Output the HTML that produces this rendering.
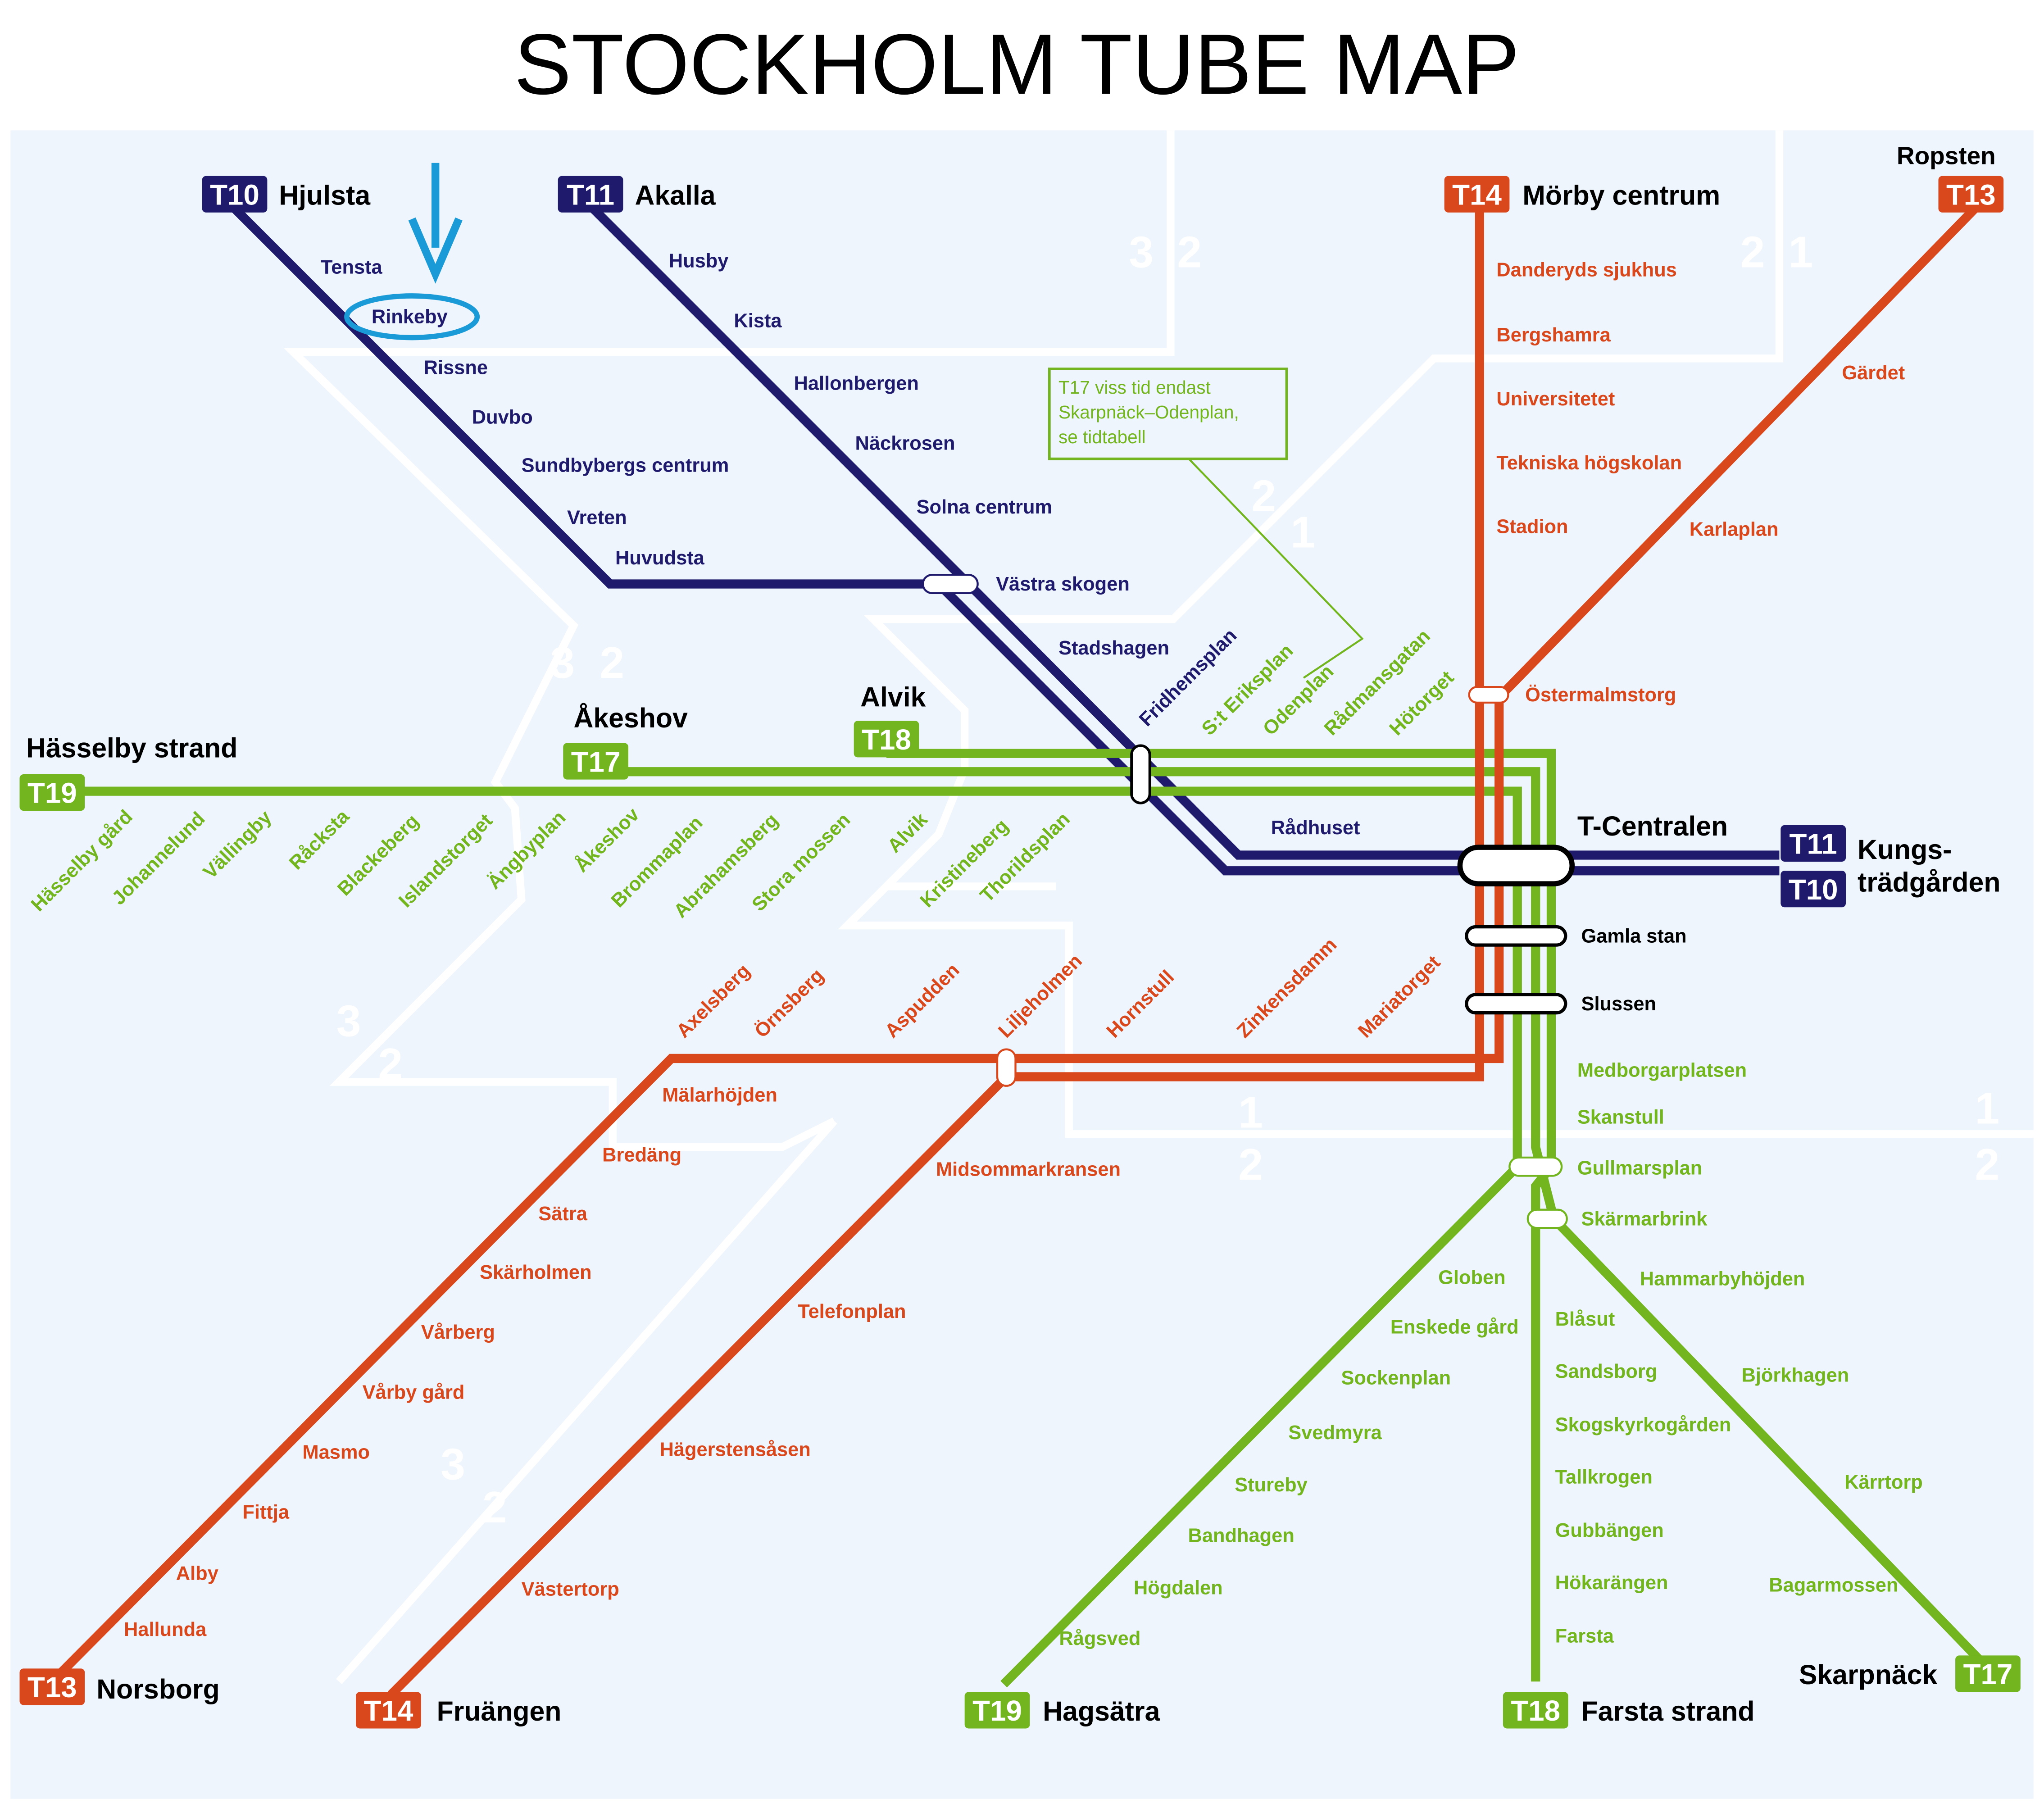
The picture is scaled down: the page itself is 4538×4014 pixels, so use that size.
<!DOCTYPE html>
<html><head><meta charset="utf-8"><style>
html,body{margin:0;padding:0;background:#fff}
svg{display:block}
text{font-family:"Liberation Sans",sans-serif;font-weight:bold}
.n{fill:#1f1a6b;font-size:15px}
.r{fill:#d8481c;font-size:15px}
.g{fill:#72b51e;font-size:15px}
.k{fill:#000;font-size:17px}
.z{fill:#fff;font-size:34px;font-weight:normal}
</style></head><body>
<svg width="4538" height="4014" viewBox="0 0 1568 1387" xmlns="http://www.w3.org/2000/svg">
<rect width="1568" height="1387" fill="#fff"/>
<rect x="8" y="100" width="1552" height="1280" fill="#eef5fc"/>
<text x="780" y="72" text-anchor="middle" style="font-size:66px;font-weight:normal" fill="#000">STOCKHOLM TUBE MAP</text>
<!-- zone lines -->
<g stroke="#fff" stroke-width="6" fill="none">
<polyline points="898,100 898,270 225,270 440,480 420,520 380,600 395,620 400,690 260,830 470,830 470,880 600,880 640,860"/>
<polyline points="1365,100 1365,275 1100,275 900,475 670,475 740,545 740,590"/>
<polyline points="640,860 260,1290"/>
<polyline points="810,680 680,680 650,710 820,710 820,870 1568,870"/>
<polyline points="740,590 720,640 680,680"/>
</g>
<g class="z"><text x="866" y="205">3</text><text x="903" y="205">2</text><text x="1335" y="205">2</text><text x="1372" y="205">1</text><text x="960" y="392">2</text><text x="990" y="420">1</text><text x="422" y="520">3</text><text x="460" y="520">2</text><text x="258" y="795">3</text><text x="290" y="828">2</text><text x="950" y="865">1</text><text x="950" y="905">2</text><text x="1515" y="862">1</text><text x="1515" y="905">2</text><text x="338" y="1135">3</text><text x="370" y="1168">2</text></g>
<!-- note box -->
<polyline points="912,352 1045,490 1000,520" fill="none" stroke="#72b51e" stroke-width="1.5"/>
<rect x="805" y="283" width="182" height="69" fill="#eef5fc" stroke="#72b51e" stroke-width="2"/>
<text class="g" x="812" y="302" style="font-weight:normal;font-size:14px">T17 viss tid endast</text>
<text class="g" x="812" y="321" style="font-weight:normal;font-size:14px">Skarpnäck–Odenplan,</text>
<text class="g" x="812" y="340" style="font-weight:normal;font-size:14px">se tidtabell</text>
<!-- lines -->
<g fill="none" stroke-width="7" stroke-linejoin="miter">
<polyline stroke="#1f1a6b" points="180,160 468,448 720,448 940,668 1365,668"/>
<polyline stroke="#1f1a6b" points="455,160 735,440 950,656 1365,656"/>
<polyline stroke="#72b51e" points="680,578 1190,578 1190,895 1178,910 1178,1290"/>
<polyline stroke="#72b51e" points="460,592 1178,592 1178,880 1192,935 1525,1280"/>
<polyline stroke="#72b51e" points="40,607 1164,607 1164,895 770,1292"/>
<polyline stroke="#d8481c" points="1135,160 1135,826 772,826 300,1300"/>
<polyline stroke="#d8481c" points="1515,160 1150,535 1150,812 515,812 40,1290"/>
</g>
<!-- interchanges -->
<g fill="#fff" stroke="#000" stroke-width="2.5">
<rect x="1120" y="650" width="86" height="28" rx="14" stroke-width="4"/>
<rect x="1125" y="711" width="76" height="14" rx="7"/>
<rect x="1125" y="763" width="76" height="14" rx="7"/>
</g>
<g fill="#fff" stroke="#1f1a6b" stroke-width="1.5">
<rect x="708" y="441" width="42" height="14" rx="7"/>
<rect x="868" y="572" width="14" height="44" rx="7" stroke="#000" stroke-width="2"/>
<rect x="1127" y="527" width="30" height="12" rx="6" stroke="#d8481c"/>
<rect x="1158" y="888" width="40" height="14" rx="7" stroke="#72b51e"/>
<rect x="1172" y="928" width="30" height="14" rx="7" stroke="#72b51e"/>
<rect x="765" y="805" width="14" height="28" rx="7" stroke="#d8481c"/>
</g>
<!-- badges -->
<g font-size="22">
<rect x="155" y="135" width="50" height="28" rx="3" fill="#1f1a6b"/><text x="180" y="157" text-anchor="middle" fill="#fff" style="font-size:22px">T10</text>
<rect x="428" y="135" width="50" height="28" rx="3" fill="#1f1a6b"/><text x="453" y="157" text-anchor="middle" fill="#fff" style="font-size:22px">T11</text>
<rect x="1108" y="135" width="50" height="28" rx="3" fill="#d8481c"/><text x="1133" y="157" text-anchor="middle" fill="#fff" style="font-size:22px">T14</text>
<rect x="1487" y="135" width="50" height="28" rx="3" fill="#d8481c"/><text x="1512" y="157" text-anchor="middle" fill="#fff" style="font-size:22px">T13</text>
<rect x="15" y="594" width="50" height="28" rx="3" fill="#72b51e"/><text x="40" y="616" text-anchor="middle" fill="#fff" style="font-size:22px">T19</text>
<rect x="432" y="570" width="50" height="28" rx="3" fill="#72b51e"/><text x="457" y="592" text-anchor="middle" fill="#fff" style="font-size:22px">T17</text>
<rect x="655" y="553" width="50" height="28" rx="3" fill="#72b51e"/><text x="680" y="575" text-anchor="middle" fill="#fff" style="font-size:22px">T18</text>
<rect x="1366" y="633" width="50" height="28" rx="3" fill="#1f1a6b"/><text x="1391" y="655" text-anchor="middle" fill="#fff" style="font-size:22px">T11</text>
<rect x="1366" y="668" width="50" height="28" rx="3" fill="#1f1a6b"/><text x="1391" y="690" text-anchor="middle" fill="#fff" style="font-size:22px">T10</text>
<rect x="15" y="1280" width="50" height="28" rx="3" fill="#d8481c"/><text x="40" y="1302" text-anchor="middle" fill="#fff" style="font-size:22px">T13</text>
<rect x="273" y="1298" width="50" height="28" rx="3" fill="#d8481c"/><text x="298" y="1320" text-anchor="middle" fill="#fff" style="font-size:22px">T14</text>
<rect x="740" y="1298" width="50" height="28" rx="3" fill="#72b51e"/><text x="765" y="1320" text-anchor="middle" fill="#fff" style="font-size:22px">T19</text>
<rect x="1153" y="1298" width="50" height="28" rx="3" fill="#72b51e"/><text x="1178" y="1320" text-anchor="middle" fill="#fff" style="font-size:22px">T18</text>
<rect x="1500" y="1270" width="50" height="28" rx="3" fill="#72b51e"/><text x="1525" y="1292" text-anchor="middle" fill="#fff" style="font-size:22px">T17</text>
</g>
<g class="k" style="font-size:21px">
<text x="214" y="157">Hjulsta</text><text x="487" y="157">Akalla</text><text x="1168" y="157">Mörby centrum</text><text x="1455" y="126" style="font-size:19px">Ropsten</text>
<text x="20" y="581">Hässelby strand</text><text x="440" y="558">Åkeshov</text><text x="660" y="542">Alvik</text>
<text x="1210" y="641">T-Centralen</text><text x="1425" y="659">Kungs-</text><text x="1425" y="684">trädgården</text>
<text x="74" y="1303">Norsborg</text><text x="335" y="1320">Fruängen</text><text x="800" y="1320">Hagsätra</text><text x="1213" y="1320">Farsta strand</text><text x="1380" y="1292">Skarpnäck</text>
</g>
<!-- station labels -->
<g class="n">
<text x="246" y="210">Tensta</text><text x="285" y="248">Rinkeby</text><text x="325" y="287">Rissne</text><text x="362" y="325">Duvbo</text><text x="400" y="362">Sundbybergs centrum</text><text x="435" y="402">Vreten</text><text x="472" y="433">Huvudsta</text>
<text x="513" y="205">Husby</text><text x="563" y="251">Kista</text><text x="609" y="299">Hallonbergen</text><text x="656" y="345">Näckrosen</text><text x="703" y="394">Solna centrum</text><text x="764" y="453">Västra skogen</text><text x="812" y="502">Stadshagen</text><text x="975" y="640">Rådhuset</text>
<text transform="translate(880,558) rotate(-45)">Fridhemsplan</text>
</g>
<g class="k" style="font-size:15px"><text x="1213" y="723">Gamla stan</text><text x="1213" y="775">Slussen</text></g>
<g class="r">
<text x="1148" y="212">Danderyds sjukhus</text><text x="1148" y="262">Bergshamra</text><text x="1148" y="311">Universitetet</text><text x="1148" y="360">Tekniska högskolan</text><text x="1148" y="409">Stadion</text><text x="1170" y="538">Östermalmstorg</text>
<text x="1413" y="291">Gärdet</text><text x="1296" y="411">Karlaplan</text>
<text x="508" y="845">Mälarhöjden</text><text x="462" y="891">Bredäng</text><text x="413" y="936">Sätra</text><text x="368" y="981">Skärholmen</text><text x="323" y="1027">Vårberg</text><text x="278" y="1073">Vårby gård</text><text x="232" y="1119">Masmo</text><text x="186" y="1165">Fittja</text><text x="135" y="1212">Alby</text><text x="95" y="1255">Hallunda</text>
<text x="718" y="902">Midsommarkransen</text><text x="612" y="1011">Telefonplan</text><text x="506" y="1117">Hägerstensåsen</text><text x="400" y="1224">Västertorp</text>
<text transform="translate(525,797) rotate(-45)">Axelsberg</text><text transform="translate(585,797) rotate(-45)">Örnsberg</text><text transform="translate(685,797) rotate(-45)">Aspudden</text><text transform="translate(772,797) rotate(-45)">Liljeholmen</text><text transform="translate(855,797) rotate(-45)">Hornstull</text><text transform="translate(955,797) rotate(-45)">Zinkensdamm</text><text transform="translate(1048,797) rotate(-45)">Mariatorget</text>
</g>
<g class="g">
<text x="1210" y="826">Medborgarplatsen</text><text x="1210" y="862">Skanstull</text><text x="1210" y="901">Gullmarsplan</text><text x="1213" y="940">Skärmarbrink</text>
<g text-anchor="end"><text x="1155" y="985">Globen</text><text x="1165" y="1023">Enskede gård</text><text x="1113" y="1062">Sockenplan</text><text x="1060" y="1104">Svedmyra</text><text x="1003" y="1144">Stureby</text><text x="993" y="1183">Bandhagen</text><text x="938" y="1223">Högdalen</text><text x="875" y="1262">Rågsved</text></g>
<text x="1193" y="1017">Blåsut</text><text x="1193" y="1057">Sandsborg</text><text x="1193" y="1098">Skogskyrkogården</text><text x="1193" y="1138">Tallkrogen</text><text x="1193" y="1179">Gubbängen</text><text x="1193" y="1219">Hökarängen</text><text x="1193" y="1260">Farsta</text>
<text x="1258" y="986">Hammarbyhöjden</text><text x="1336" y="1060">Björkhagen</text><text x="1415" y="1142">Kärrtorp</text><text x="1357" y="1221">Bagarmossen</text>
<text transform="translate(30,700) rotate(-45)">Hässelby gård</text><text transform="translate(92,695) rotate(-45)">Johannelund</text><text transform="translate(162,675) rotate(-45)">Vällingby</text><text transform="translate(228,668) rotate(-45)">Råcksta</text><text transform="translate(265,688) rotate(-45)">Blackeberg</text><text transform="translate(312,697) rotate(-45)">Islandstorget</text><text transform="translate(380,683) rotate(-45)">Ängbyplan</text><text transform="translate(447,670) rotate(-45)">Åkeshov</text><text transform="translate(475,697) rotate(-45)">Brommaplan</text><text transform="translate(523,705) rotate(-45)">Abrahamsberg</text><text transform="translate(583,700) rotate(-45)">Stora mossen</text><text transform="translate(687,655) rotate(-45)">Alvik</text><text transform="translate(712,697) rotate(-45)">Kristineberg</text><text transform="translate(758,693) rotate(-45)">Thorildsplan</text>
<text transform="translate(928,565) rotate(-45)">S:t Eriksplan</text><text transform="translate(975,565) rotate(-45)">Odenplan</text><text transform="translate(1022,565) rotate(-45)">Rådmansgatan</text><text transform="translate(1072,565) rotate(-45)">Hötorget</text>
</g>
<!-- arrow & ellipse -->
<line x1="334" y1="125" x2="334" y2="190" stroke="#1a9ad6" stroke-width="6"/>
<polyline points="316,168 334,210 352,168" fill="none" stroke="#1a9ad6" stroke-width="6"/>
<ellipse cx="316" cy="243" rx="50" ry="16" fill="none" stroke="#1a9ad6" stroke-width="4"/>
</svg>
</body></html>
